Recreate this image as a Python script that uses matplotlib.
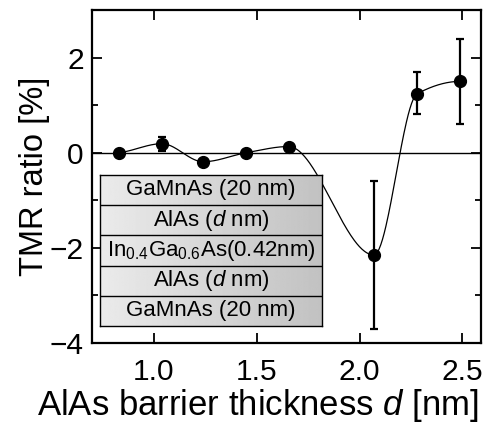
import numpy as np
import matplotlib
matplotlib.use("Agg")
import matplotlib.pyplot as plt

plt.rcParams['font.family'] = ['Liberation Sans', 'DejaVu Sans']
plt.rcParams['mathtext.fontset'] = 'custom'
plt.rcParams['mathtext.rm'] = 'Liberation Sans'
plt.rcParams['mathtext.it'] = 'Liberation Sans:italic'

# data
d_nm = np.array([0.83, 1.04, 1.24, 1.45, 1.655, 2.07, 2.28, 2.49])
tmr = np.array([0.0, 0.19, -0.19, 0.0, 0.13, -2.15, 1.24, 1.50])
err_lo = np.array([0.0, 0.15, 0.0, 0.0, 0.0, 1.55, 0.42, 0.89])
err_hi = np.array([0.0, 0.15, 0.0, 0.0, 0.0, 1.56, 0.46, 0.90])

layers = ["GaMnAs (20 nm)", "AlAs ($\\it{d}$ nm)",
          "In$_{0.4}$Ga$_{0.6}$As(0.42nm)", "AlAs ($\\it{d}$ nm)",
          "GaMnAs (20 nm)"]


def pchip(x, y, xs):
    # monotone cubic (Fritsch-Carlson) guide line through the points
    h = np.diff(x)
    delta = np.diff(y) / h
    m = np.zeros_like(y)
    for k in range(1, len(x) - 1):
        if delta[k - 1] * delta[k] > 0:
            w1 = 2 * h[k] + h[k - 1]
            w2 = h[k] + 2 * h[k - 1]
            m[k] = (w1 + w2) / (w1 / delta[k - 1] + w2 / delta[k])
    m[0] = delta[0] * 0.5
    m[-1] = 0.0
    out = np.empty_like(xs)
    for i, xv in enumerate(xs):
        k = min(np.searchsorted(x, xv, side='right') - 1, len(x) - 2)
        t = (xv - x[k]) / h[k]
        h00 = 2 * t**3 - 3 * t**2 + 1
        h10 = t**3 - 2 * t**2 + t
        h01 = -2 * t**3 + 3 * t**2
        h11 = t**3 - t**2
        out[i] = h00 * y[k] + h10 * h[k] * m[k] + h01 * y[k + 1] + h11 * h[k] * m[k + 1]
    return out


fig = plt.figure(figsize=(4.96, 4.28), dpi=100)
ax = fig.add_axes([92 / 496, 1 - 343 / 428, 389 / 496, 333 / 428])

ax.axhline(0, color='black', lw=1.0, zorder=1)
xs = np.linspace(d_nm[0], d_nm[-1], 400)
ax.plot(xs, pchip(d_nm, tmr, xs), color='black', lw=0.9, zorder=2)
ax.errorbar(d_nm, tmr, yerr=[err_lo, err_hi], fmt='o', color='black',
            ms=8.5, elinewidth=1.6, capsize=2.7, capthick=1.6, zorder=3)

ax.set_xlim(0.70, 2.59)
ax.set_ylim(-4, 3)
ax.set_xticks([1.0, 1.5, 2.0, 2.5])
ax.set_yticks([-4, -2, 0, 2])
ax.set_yticks([-3, -1, 1], minor=True)
ax.tick_params(which='both', direction='in', top=True, right=True,
               labelsize=21.5, width=1.3)
ax.tick_params(which='major', length=7)
ax.tick_params(axis='x', which='major', pad=11)
ax.tick_params(axis='y', which='major', pad=6)
ax.tick_params(which='minor', length=4)
for s in ax.spines.values():
    s.set_linewidth(1.6)

# x label sits left of the axes centre in the original
fig.text(258 / 496, 1 - 415 / 428, "AlAs barrier thickness $\\it{d}$ [nm]",
         fontsize=25, ha='center', va='baseline')
ax.set_ylabel("TMR ratio [%]", fontsize=23.5, labelpad=0)

# layer stack inset
ins = ax.inset_axes([0.021, 0.051, 0.570, 0.454])
grad = np.linspace(0.92, 0.76, 200)[None, :]
ins.imshow(grad, cmap='gray', vmin=0, vmax=1, aspect='auto',
           extent=[0, 1, 0, len(layers)])
for i, name in enumerate(layers):
    yc = len(layers) - i - 0.5
    ins.text(0.5, yc, name, ha='center', va='center', fontsize=16)
    if i > 0:
        ins.axhline(len(layers) - i, color='black', lw=1.0)
ins.set_xlim(0, 1)
ins.set_ylim(0, len(layers))
ins.set_xticks([])
ins.set_yticks([])
for s in ins.spines.values():
    s.set_linewidth(1.0)

fig.savefig("out.png", dpi=100)
